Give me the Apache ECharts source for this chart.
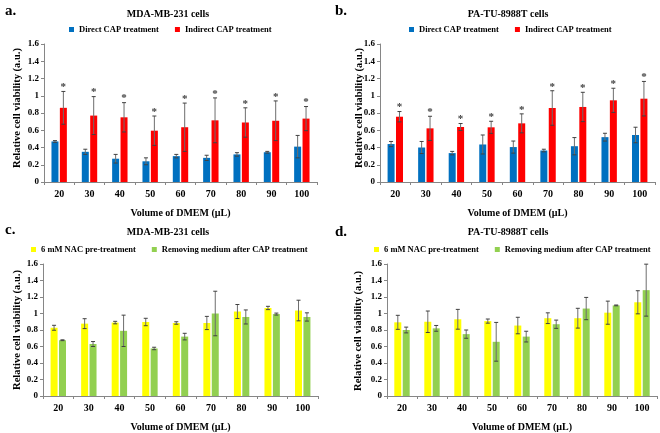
<!DOCTYPE html>
<html>
<head>
<meta charset="utf-8">
<script src="https://cdn.jsdelivr.net/npm/echarts@6/dist/echarts.min.js"></script>
<style>html,body{margin:0;padding:0;background:#fff}#c{width:660px;height:433px}</style>
</head>
<body>
<div id="c"></div>
<script>
var categories = ['20','30','40','50','60','70','80','90','100'];

var aDirect = [0.47,0.35,0.27,0.24,0.30,0.28,0.32,0.345,0.41];
var aDirectErr = [0.01,0.03,0.05,0.04,0.02,0.03,0.02,0.01,0.13];
var aIndirect = [0.86,0.77,0.75,0.595,0.635,0.715,0.69,0.71,0.735];
var aIndirectErr = [0.19,0.22,0.17,0.17,0.28,0.26,0.17,0.23,0.14];

var bDirect = [0.44,0.40,0.335,0.435,0.405,0.365,0.415,0.52,0.545];
var bDirectErr = [0.03,0.07,0.02,0.11,0.07,0.015,0.10,0.045,0.09];
var bIndirect = [0.757,0.622,0.638,0.634,0.68,0.858,0.87,0.947,0.966];
var bIndirectErr = [0.06,0.14,0.04,0.07,0.11,0.20,0.17,0.14,0.20];

var cNac = [0.827,0.877,0.89,0.897,0.885,0.885,1.024,1.067,1.036];
var cNacErr = [0.03,0.06,0.015,0.045,0.015,0.08,0.085,0.02,0.125];
var cRemove = [0.676,0.63,0.79,0.576,0.72,1.0,0.958,0.993,0.958];
var cRemoveErr = [0.005,0.03,0.19,0.015,0.04,0.27,0.085,0.012,0.05];

var dNac = [0.893,0.90,0.93,0.908,0.854,0.943,0.943,1.01,1.136];
var dNacErr = [0.085,0.13,0.12,0.025,0.10,0.065,0.12,0.14,0.14];
var dRemove = [0.80,0.82,0.75,0.657,0.72,0.87,1.06,1.098,1.283];
var dRemoveErr = [0.035,0.035,0.05,0.235,0.065,0.05,0.135,0.005,0.315];

var starsA = ['*','*','*','*','*','*','*','*','*'];
var starsB = ['*','*','*','*','*','*','*','*','*'];

var FONT = '"Liberation Serif", "Times New Roman", serif';
var BLUE = '#0070C0', RED = '#FF0000', YELLOW = '#FFFF00', GREEN = '#92D050';
var BW = 7, OFF = 4.2;

var grids = [
  {left:44, top:44, width:273, height:138},
  {left:380, top:44, width:275, height:138},
  {left:43, top:264, width:275, height:138},
  {left:387, top:264, width:270, height:138}
];

function xAxisFor(i){
  return {
    type:'category', gridIndex:i, data:categories,
    name:'Volume of DMEM (\u00b5L)', nameLocation:'middle', nameGap:26,
    nameTextStyle:{fontFamily:FONT, fontWeight:'bold', fontSize:10, color:'#000'},
    axisLine:{lineStyle:{color:'#868686', width:1}},
    axisTick:{show:true, alignWithLabel:false, length:3, lineStyle:{color:'#868686'}},
    axisLabel:{fontFamily:FONT, fontWeight:'bold', fontSize:10, color:'#000', margin:7}
  };
}
function yAxisFor(i){
  return {
    type:'value', gridIndex:i, min:0, max:1.6, interval:0.2,
    axisLine:{show:true, lineStyle:{color:'#868686', width:1}},
    axisTick:{show:true, length:3, inside:false, lineStyle:{color:'#868686'}},
    splitLine:{show:false},
    axisLabel:{fontFamily:FONT, fontWeight:'bold', fontSize:9, color:'#000', margin:5,
      formatter:function(v){ return String(Math.round(v*10)/10); }}
  };
}

function barSeries(name, data, color, gi){
  return {
    type:'bar', name:name, data:data, xAxisIndex:gi, yAxisIndex:gi,
    barWidth:BW, barGap:'20%', itemStyle:{color:color}, z:2
  };
}

function errSeries(vals, errs, offset, gi, stars){
  var data = vals.map(function(v, k){ return [k, v, errs[k], stars ? stars[k] : '']; });
  return {
    type:'custom', xAxisIndex:gi, yAxisIndex:gi, z:5, silent:true,
    encode:{x:0, y:1},
    data:data,
    renderItem:function(params, api){
      var idx = api.value(0), v = api.value(1), e = api.value(2);
      var top = api.coord([idx, v + e]);
      var bot = api.coord([idx, Math.max(0, v - e)]);
      var x = top[0] + offset;
      var children = [
        {type:'line', shape:{x1:x, y1:top[1], x2:x, y2:bot[1]}, style:{stroke:'#6d6d6d', lineWidth:1}},
        {type:'line', shape:{x1:x-2, y1:top[1], x2:x+2, y2:top[1]}, style:{stroke:'#404040', lineWidth:1}},
        {type:'line', shape:{x1:x-2, y1:bot[1], x2:x+2, y2:bot[1]}, style:{stroke:'#404040', lineWidth:1}}
      ];
      var s = data[params.dataIndex][3];
      if (s) {
        children.push({type:'text', style:{text:s, x:x, y:top[1]-4, align:'center', verticalAlign:'middle',
          font:'bold 11px ' + FONT, fill:'#404040'}});
      }
      return {type:'group', children:children};
    }
  };
}

function legendAt(names, left, top){
  return {
    data:names.map(function(n){ return {name:n, icon:'rect'}; }),
    left:left, top:top, itemWidth:5, itemHeight:5, itemGap:16,
    textStyle:{fontFamily:FONT, fontWeight:'bold', fontSize:8.5, color:'#000'},
    selectedMode:false
  };
}

function yTitle(x, y){
  return {type:'text', x:x, y:y, rotation:Math.PI/2,
    style:{text:'Relative cell viability (a.u.)', align:'center', verticalAlign:'middle',
      font:'bold 10.5px ' + FONT, fill:'#000'}};
}

var titleStyle = {fontFamily:FONT, fontWeight:'bold', fontSize:10, color:'#000'};
var labelStyle = {fontFamily:FONT, fontWeight:'bold', fontSize:15, color:'#000'};

var chart = echarts.init(document.getElementById('c'), null, {renderer:'canvas'});
chart.setOption({
  animation:false,
  backgroundColor:'#fff',
  title:[
    {text:'MDA-MB-231 cells', left:163, top:4, textAlign:'center', textStyle:titleStyle},
    {text:'PA-TU-8988T cells', left:503, top:4, textAlign:'center', textStyle:titleStyle},
    {text:'MDA-MB-231 cells', left:163, top:222, textAlign:'center', textStyle:titleStyle},
    {text:'PA-TU-8988T cells', left:503, top:222, textAlign:'center', textStyle:titleStyle},
    {text:'a.', left:0, top:-1, textStyle:labelStyle},
    {text:'b.', left:330, top:-1, textStyle:labelStyle},
    {text:'c.', left:0, top:218, textStyle:labelStyle},
    {text:'d.', left:330, top:220, textStyle:labelStyle}
  ],
  graphic:[yTitle(17, 108), yTitle(359, 108), yTitle(17, 330), yTitle(358, 331)],
  legend:[
    legendAt(['Direct CAP treatment','Indirect CAP treatment'], 64, 20),
    legendAt(['Direct CAP treatment','Indirect CAP treatment'], 404, 20),
    legendAt(['6 mM NAC pre-treatment','Removing medium after CAP treatment'], 26, 240),
    legendAt(['6 mM NAC pre-treatment','Removing medium after CAP treatment'], 369, 240)
  ],
  grid:grids,
  xAxis:[xAxisFor(0), xAxisFor(1), xAxisFor(2), xAxisFor(3)],
  yAxis:[yAxisFor(0), yAxisFor(1), yAxisFor(2), yAxisFor(3)],
  series:[
    barSeries('Direct CAP treatment', aDirect, BLUE, 0),
    barSeries('Indirect CAP treatment', aIndirect, RED, 0),
    errSeries(aDirect, aDirectErr, -OFF, 0, null),
    errSeries(aIndirect, aIndirectErr, OFF, 0, starsA),

    barSeries('Direct CAP treatment', bDirect, BLUE, 1),
    barSeries('Indirect CAP treatment', bIndirect, RED, 1),
    errSeries(bDirect, bDirectErr, -OFF, 1, null),
    errSeries(bIndirect, bIndirectErr, OFF, 1, starsB),

    barSeries('6 mM NAC pre-treatment', cNac, YELLOW, 2),
    barSeries('Removing medium after CAP treatment', cRemove, GREEN, 2),
    errSeries(cNac, cNacErr, -OFF, 2, null),
    errSeries(cRemove, cRemoveErr, OFF, 2, null),

    barSeries('6 mM NAC pre-treatment', dNac, YELLOW, 3),
    barSeries('Removing medium after CAP treatment', dRemove, GREEN, 3),
    errSeries(dNac, dNacErr, -OFF, 3, null),
    errSeries(dRemove, dRemoveErr, OFF, 3, null)
  ]
});
</script>
</body>
</html>
